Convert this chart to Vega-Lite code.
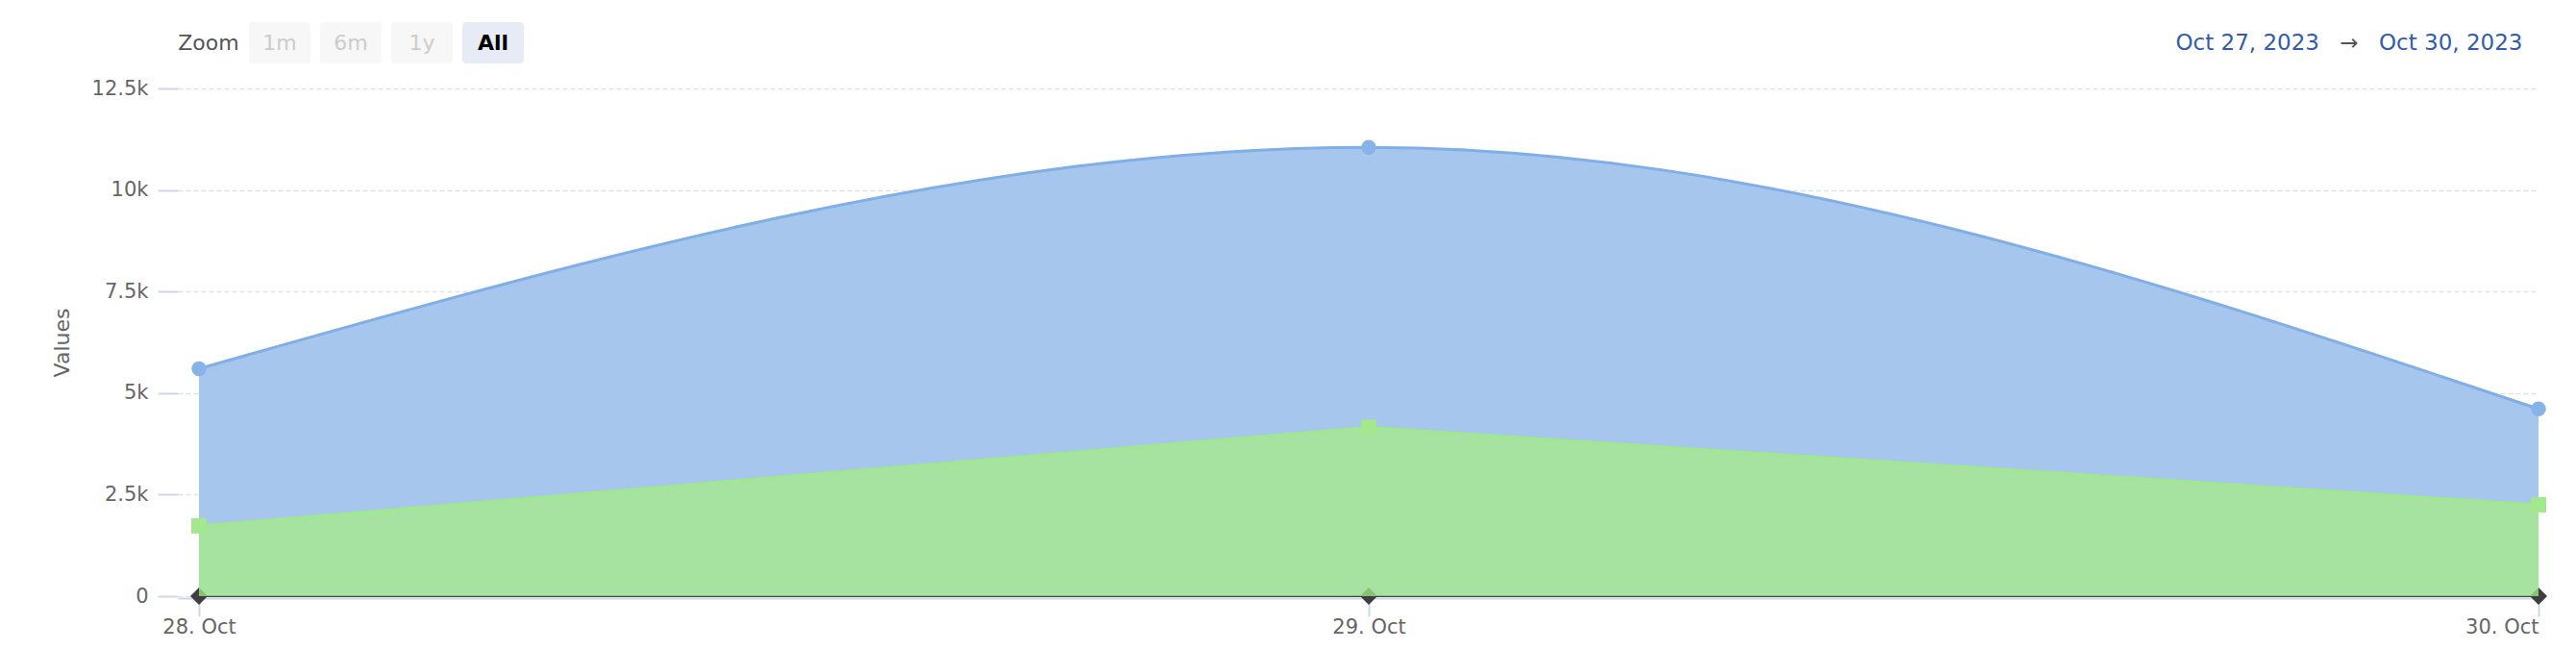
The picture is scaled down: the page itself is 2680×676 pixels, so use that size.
{
  "$schema": "https://vega.github.io/schema/vega-lite/v6.json",
  "background": "white",
  "padding": {"left": 53, "top": 23, "right": 20, "bottom": 10},
  "config": {"view": {"stroke": null}, "font": "DejaVu Sans"},
  "spacing": 15,
  "vconcat": [
    {
      "bounds": "flush",
      "spacing": 1868,
      "hconcat": [
        {
          "width": 360,
          "height": 43,
          "data": {"values": [
            {"item": "Zoom", "kind": "label"},
            {"item": "1m", "kind": "off"},
            {"item": "6m", "kind": "off"},
            {"item": "1y", "kind": "off"},
            {"item": "All", "kind": "on"}
          ]},
          "encoding": {
            "x": {"field": "item", "type": "nominal",
                  "scale": {"type": "band", "domain": ["Zoom", "1m", "6m", "1y", "All"],
                            "paddingInner": 0.135, "paddingOuter": 0, "align": 0},
                  "axis": null},
            "text": {"field": "item"}
          },
          "layer": [
            {
              "transform": [{"filter": "datum.kind != 'label'"}],
              "mark": {"type": "rect", "cornerRadius": 4},
              "encoding": {
                "fill": {"condition": {"test": "datum.kind == 'on'", "value": "#e6ebf5"}, "value": "#f7f7f7"}
              }
            },
            {
              "transform": [{"filter": "datum.kind == 'label'"}],
              "mark": {"type": "text", "fontSize": 22, "baseline": "middle", "align": "center", "color": "#555555"}
            },
            {
              "transform": [{"filter": "datum.kind == 'off'"}],
              "mark": {"type": "text", "fontSize": 22, "baseline": "middle", "align": "center", "color": "#cccccc"}
            },
            {
              "transform": [{"filter": "datum.kind == 'on'"}],
              "mark": {"type": "text", "fontSize": 22, "baseline": "middle", "align": "center", "color": "#000000", "fontWeight": "bold"}
            }
          ]
        },
        {
          "width": 62,
          "height": 43,
          "data": {"values": [
            {"part": "from", "label": "Oct 27, 2023"},
            {"part": "arrow", "label": "→"},
            {"part": "to", "label": "Oct 30, 2023"}
          ]},
          "encoding": {
            "x": {"field": "part", "type": "nominal",
                  "scale": {"type": "point", "domain": ["from", "arrow", "to"], "padding": 0},
                  "axis": null},
            "text": {"field": "label"}
          },
          "layer": [
            {"transform": [{"filter": "datum.part == 'from'"}],
             "mark": {"type": "text", "fontSize": 23, "baseline": "middle", "align": "right", "color": "#335cad"}},
            {"transform": [{"filter": "datum.part == 'arrow'"}],
             "mark": {"type": "text", "fontSize": 23, "baseline": "middle", "align": "center", "color": "#555555"}},
            {"transform": [{"filter": "datum.part == 'to'"}],
             "mark": {"type": "text", "fontSize": 23, "baseline": "middle", "align": "left", "color": "#335cad"}}
          ]
        }
      ]
    },
    {
      "width": 2456,
      "height": 528,
      "data": {"values": [
        {"date": "2023-10-28", "series": "A", "value": 5600},
        {"date": "2023-10-29", "series": "A", "value": 11050},
        {"date": "2023-10-30", "series": "A", "value": 4610},
        {"date": "2023-10-28", "series": "B", "value": 0},
        {"date": "2023-10-29", "series": "B", "value": 0},
        {"date": "2023-10-30", "series": "B", "value": 0},
        {"date": "2023-10-28", "series": "C", "value": 1730},
        {"date": "2023-10-29", "series": "C", "value": 4160},
        {"date": "2023-10-30", "series": "C", "value": 2250}
      ]},
      "encoding": {
        "x": {
          "field": "date", "type": "temporal",
          "scale": {"type": "utc", "domain": [
            {"year": 2023, "month": "oct", "date": 27, "hours": 23, "minutes": 33, "seconds": 58, "utc": true},
            {"year": 2023, "month": "oct", "date": 30, "utc": true}
          ]},
          "axis": {
            "values": [
              {"year": 2023, "month": "oct", "date": 28, "utc": true},
              {"year": 2023, "month": "oct", "date": 29, "utc": true},
              {"year": 2023, "month": "oct", "date": 30, "utc": true}
            ],
            "labelExpr": "utcFormat(datum.value, '%d. %b')",
            "title": null, "grid": false,
            "offset": 2,
            "domainColor": "#ccd6eb", "domainWidth": 2,
            "tickColor": "#ccd6eb", "tickWidth": 2, "tickSize": 19,
            "labelFontSize": 21, "labelColor": "#666666", "labelPadding": 0,
            "labelAlign": {"condition": {"test": "datum.value >= 1698624000000", "value": "right"}, "value": "center"},
            "labelFlush": false, "labelOverlap": false
          }
        },
        "y": {
          "field": "value", "type": "quantitative",
          "scale": {"domain": [0, 12500], "nice": false},
          "axis": {
            "values": [0, 2500, 5000, 7500, 10000, 12500],
            "labelExpr": "format(datum.value, '~s')",
            "domain": false,
            "grid": true, "gridDash": [5, 3], "gridColor": "#e1e1e1", "gridWidth": 1.5,
            "tickColor": "#ccd6eb", "tickWidth": 2, "tickSize": 21,
            "labelFontSize": 21, "labelColor": "#666666", "labelPadding": 10,
            "title": "Values", "titleFontSize": 22, "titleFontWeight": "normal",
            "titleColor": "#666666", "titlePadding": 19
          }
        }
      },
      "layer": [
        {"transform": [{"filter": "datum.series == 'A'"}],
         "mark": {"type": "area", "interpolate": "monotone", "color": "#a6c6ee", "opacity": 1}},
        {"transform": [{"filter": "datum.series == 'A'"}],
         "mark": {"type": "line", "interpolate": "monotone", "color": "#80aee6", "strokeWidth": 3}},
        {"transform": [{"filter": "datum.series == 'A'"}],
         "mark": {"type": "point", "shape": "circle", "filled": true, "size": 240, "color": "#87b3e8", "opacity": 1}},
        {"transform": [{"filter": "datum.series == 'B'"}],
         "mark": {"type": "line", "color": "#434348", "strokeWidth": 2}},
        {"transform": [{"filter": "datum.series == 'B'"}],
         "mark": {"type": "point", "shape": "diamond", "filled": true, "size": 324, "color": "#3d3d42", "opacity": 1}},
        {"transform": [{"filter": "datum.series == 'C'"}],
         "mark": {"type": "area", "color": "#a6ec86", "fillOpacity": 0.75}},
        {"transform": [{"filter": "datum.series == 'C'"}],
         "mark": {"type": "line", "color": "#9fe98a", "strokeWidth": 2.5}},
        {"transform": [{"filter": "datum.series == 'C'"}],
         "mark": {"type": "point", "shape": "square", "filled": true, "size": 256, "color": "#a3e88c", "opacity": 1}}
      ]
    }
  ]
}
